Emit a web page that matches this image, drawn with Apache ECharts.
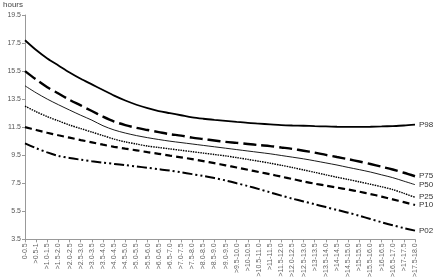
<!DOCTYPE html>
<html>
<head>
<meta charset="utf-8">
<script src="https://cdn.jsdelivr.net/npm/echarts@6/dist/echarts.min.js"></script>
<style>
  html, body { margin: 0; padding: 0; background: #fff; }
  #main { width: 439px; height: 280px; }
</style>
</head>
<body>
<div id="main"></div>
<script>
// age groups (years)
var ageGroups = ['0-0.5', '>0.5-1', '>1.0-1.5', '>1.5-2.0', '>2.0-2.5', '>2.5-3.0', '>3.0-3.5', '>3.5-4.0',
  '>4.0-4.5', '>4.5-5.0', '>5.0-5.5', '>5.5-6.0', '>6.0-6.5', '>6.5-7.0', '>7.0-7.5', '>7.5-8.0',
  '>8.0-8.5', '>8.5-9.0', '>9.0-9.5', '>9.5-10.0', '>10-10.5', '>10.5-11.0', '>11-11.5', '>11.5-12.0',
  '>12.0-12.5', '>12.5-13.0', '>13-13.5', '>13.5-14.0', '>14-14.5', '>14.5-15.0', '>15-15.5', '>15.5-16.0',
  '>16-16.5', '>16.5-17.0', '>17-17.5', '>17.5-18.0'];

var yTicks = [3.5, 5.5, 7.5, 9.5, 11.5, 13.5, 15.5, 17.5, 19.5];

// sleep duration percentiles (hours)
var p98 = [17.7, 17.0, 16.4, 15.9, 15.4, 14.95, 14.55, 14.15, 13.75, 13.4, 13.1, 12.85, 12.65, 12.5, 12.35, 12.2,
  12.1, 12.02, 11.95, 11.87, 11.8, 11.75, 11.7, 11.65, 11.62, 11.6, 11.57, 11.55, 11.53, 11.52, 11.52, 11.53,
  11.55, 11.58, 11.62, 11.68];
var p75 = [15.5, 14.9, 14.35, 13.9, 13.45, 13.05, 12.65, 12.25, 11.9, 11.65, 11.45, 11.3, 11.15, 11.0, 10.9, 10.75,
  10.65, 10.55, 10.45, 10.38, 10.3, 10.22, 10.15, 10.05, 9.95, 9.82, 9.68, 9.52, 9.37, 9.22, 9.05, 8.87,
  8.68, 8.48, 8.25, 8.0];
var p50 = [14.45, 13.95, 13.5, 13.1, 12.72, 12.35, 12.0, 11.6, 11.3, 11.08, 10.9, 10.75, 10.62, 10.5, 10.4, 10.3,
  10.2, 10.1, 10.0, 9.9, 9.8, 9.7, 9.6, 9.48, 9.36, 9.24, 9.1, 8.95, 8.8, 8.63, 8.47, 8.3,
  8.1, 7.9, 7.65, 7.4];
var p25 = [13.0, 12.6, 12.25, 11.95, 11.65, 11.4, 11.15, 10.9, 10.65, 10.45, 10.3, 10.15, 10.05, 9.95, 9.85, 9.75,
  9.65, 9.55, 9.45, 9.33, 9.2, 9.07, 8.93, 8.78, 8.62, 8.45, 8.28, 8.1, 7.93, 7.77, 7.6, 7.43,
  7.25, 7.05, 6.78, 6.5];
var p10 = [11.5, 11.3, 11.1, 10.92, 10.75, 10.58, 10.42, 10.25, 10.1, 9.97, 9.85, 9.72, 9.6, 9.47, 9.35, 9.22,
  9.08, 8.93, 8.78, 8.62, 8.46, 8.3, 8.14, 7.97, 7.8, 7.63, 7.47, 7.33, 7.19, 7.05, 6.9, 6.73,
  6.55, 6.35, 6.15, 5.95];
var p02 = [10.35, 10.0, 9.7, 9.45, 9.3, 9.18, 9.07, 8.97, 8.88, 8.79, 8.7, 8.6, 8.5, 8.4, 8.28, 8.15,
  8.02, 7.87, 7.7, 7.5, 7.3, 7.08, 6.85, 6.62, 6.4, 6.2, 6.0, 5.8, 5.6, 5.4, 5.18, 4.95,
  4.72, 4.5, 4.3, 4.12];

var myChart = echarts.init(document.getElementById('main'));

function mkLine(name, data, width, dash) {
  return {
    name: name,
    type: 'line',
    data: data,
    smooth: 0.3,
    showSymbol: false,
    silent: true,
    lineStyle: { color: '#000', width: width, type: dash },
    endLabel: {
      show: true,
      formatter: '{a}',
      fontSize: 8,
      color: '#333',
      distance: 4,
      fontFamily: 'Liberation Sans'
    }
  };
}

var option = {
  animation: false,
  textStyle: { fontFamily: 'Liberation Sans' },
  grid: { left: 20, right: 24, top: 15, bottom: 37 },
  xAxis: {
    type: 'category',
    data: ageGroups,
    boundaryGap: false,
    axisLine: { lineStyle: { color: '#999' } },
    axisTick: { show: true, alignWithLabel: true, length: 3, lineStyle: { color: '#999' } },
    axisLabel: { rotate: 90, interval: 0, fontSize: 7, color: '#666', margin: 4 }
  },
  yAxis: {
    type: 'value',
    min: 3.5,
    max: 19.5,
    name: 'hours',
    nameGap: 6,
    nameTextStyle: { fontSize: 8, color: '#444', align: 'right', padding: [0, 2, 0, 0] },
    splitLine: { show: false },
    axisLine: { show: true, lineStyle: { color: '#999' } },
    axisTick: { show: true, length: 3, customValues: yTicks, lineStyle: { color: '#999' } },
    axisLabel: {
      fontSize: 7, color: '#555', margin: 4,
      customValues: yTicks,
      formatter: function (v) { return v.toFixed(1); }
    }
  },
  series: [
    mkLine('P98', p98, 1.8, 'solid'),
    mkLine('P75', p75, 2.4, [13, 5]),
    mkLine('P50', p50, 0.9, 'solid'),
    mkLine('P25', p25, 1.4, [1.5, 1]),
    mkLine('P10', p10, 2.2, [7, 4]),
    mkLine('P02', p02, 2, [10, 3, 2, 3, 2, 3])
  ]
};

myChart.setOption(option);
</script>
</body>
</html>
